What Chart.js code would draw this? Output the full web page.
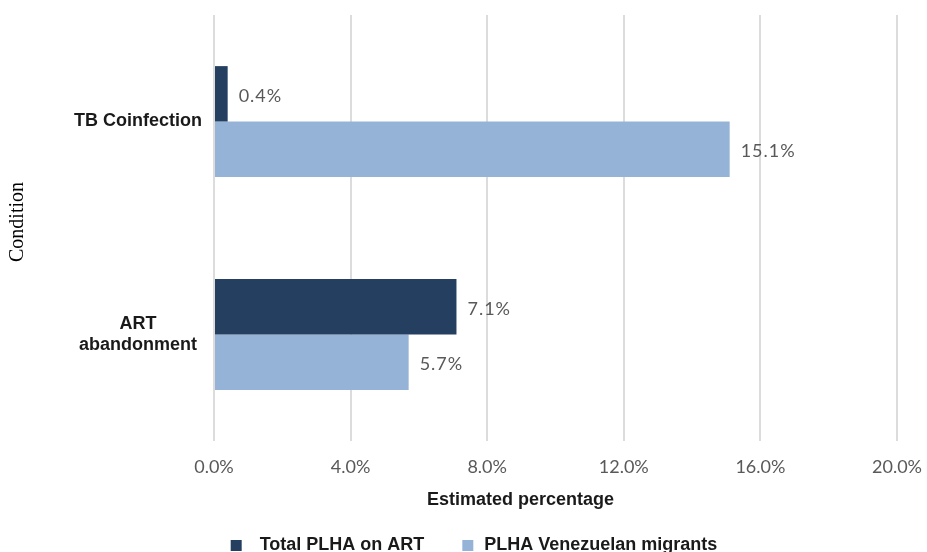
<!DOCTYPE html>
<html>
<head>
<meta charset="utf-8">
<script src="https://cdn.jsdelivr.net/npm/chart.js@4.4.1/dist/chart.umd.min.js"></script>
<style>
  html, body { margin: 0; padding: 0; background: #fff; overflow: hidden; }
  #wrap { position: relative; width: 927px; height: 564px; }
</style>
</head>
<body>
<div id="wrap"><canvas id="conditionChart"></canvas></div>
<script>
const conditions = ['TB Coinfection', ['ART', 'abandonment']];
const totalOnArt = [0.4, 7.1];
const venezuelanMigrants = [15.1, 5.7];
const seriesNames = ['Total PLHA on ART', 'PLHA Venezuelan migrants'];
const seriesColors = ['#243F60', '#95B3D7'];
const xTicks = [0, 4, 8, 12, 16, 20];

// legend marker: 11px square placed inside a wider transparent box,
// the offset controls the gap before the item and before its text
const MARKER_BOX = 41;
const markerOffsets = [21, 28];
const legendMarker = (color, offset) => {
  const c = document.createElement('canvas');
  c.width = MARKER_BOX;
  c.height = 11;
  const ctx = c.getContext('2d');
  ctx.fillStyle = color;
  ctx.fillRect(offset, 0, 11, 11);
  return c;
};

// nudge an axis title away from the scale's default centre
const shiftTitle = (scale, dx, dy) => {
  const draw = Object.getPrototypeOf(scale).drawTitle;
  scale.drawTitle = function () {
    this.ctx.save();
    this.ctx.translate(dx, dy);
    draw.call(this);
    this.ctx.restore();
  };
};

const valueLabels = {
  id: 'valueLabels',
  afterDatasetsDraw(chart) {
    const { ctx } = chart;
    ctx.save();
    ctx.font = '18px Lato';
    ctx.letterSpacing = '1px';
    ctx.fillStyle = '#595959';
    ctx.textBaseline = 'middle';
    ctx.textAlign = 'left';
    chart.data.datasets.forEach((ds, i) => {
      chart.getDatasetMeta(i).data.forEach((bar, j) => {
        ctx.fillText(ds.data[j].toFixed(1) + '%', bar.x + 11, bar.y + 2);
      });
    });
    ctx.restore();
  },
};

new Chart(document.getElementById('conditionChart'), {
  type: 'bar',
  data: {
    labels: conditions,
    datasets: [
      { label: seriesNames[0], data: totalOnArt, backgroundColor: seriesColors[0] },
      { label: seriesNames[1], data: venezuelanMigrants, backgroundColor: seriesColors[1] },
    ],
  },
  options: {
    indexAxis: 'y',
    responsive: true,
    maintainAspectRatio: false,
    animation: false,
    datasets: { bar: { categoryPercentage: 0.52, barPercentage: 1 } },
    layout: { padding: { top: 15, right: 0, bottom: 0, left: 0 } },
    scales: {
      x: {
        min: xTicks[0],
        max: xTicks[xTicks.length - 1],
        afterFit: scale => {
          scale.paddingLeft = 0;
          scale.paddingRight = 30;
          shiftTitle(scale, -35, 0);
        },
        afterBuildTicks: scale => { scale.ticks = xTicks.map(v => ({ value: v })); },
        ticks: {
          padding: 15,
          color: '#595959',
          font: { family: 'Lato', size: 18 },
          callback: v => v.toFixed(1) + '%',
        },
        grid: { color: '#dcdcdc', lineWidth: 2, drawTicks: false },
        border: { display: false },
        title: {
          display: true,
          text: 'Estimated percentage',
          color: '#1a1a1a',
          font: { family: 'Liberation Sans', size: 18, weight: 'bold' },
          padding: { top: -3.4, bottom: 15.2 },
        },
      },
      y: {
        afterFit: scale => {
          scale.width = 214;
          scale.paddingTop = 0;
          scale.paddingBottom = 0;
          shiftTitle(scale, 0, -6);
        },
        ticks: {
          crossAlign: 'center',
          padding: 4,
          color: '#1a1a1a',
          font: { family: 'Liberation Sans', size: 18, weight: 'bold' },
        },
        grid: { display: false },
        border: { display: false },
        title: {
          display: true,
          text: 'Condition',
          color: '#000',
          font: { family: 'Liberation Serif', size: 20 },
          padding: { top: 6, bottom: 0 },
        },
      },
    },
    plugins: {
      legend: {
        position: 'bottom',
        labels: {
          usePointStyle: true,
          pointStyleWidth: MARKER_BOX,
          boxHeight: 11,
          padding: 10,
          color: '#1a1a1a',
          font: { family: 'Liberation Sans', size: 18, weight: 'bold' },
          generateLabels: chart =>
            Chart.defaults.plugins.legend.labels.generateLabels(chart).map((item, i) => ({
              ...item,
              pointStyle: legendMarker(seriesColors[i], markerOffsets[i]),
            })),
        },
      },
      tooltip: { enabled: false },
    },
  },
  plugins: [valueLabels],
});
</script>
</body>
</html>
